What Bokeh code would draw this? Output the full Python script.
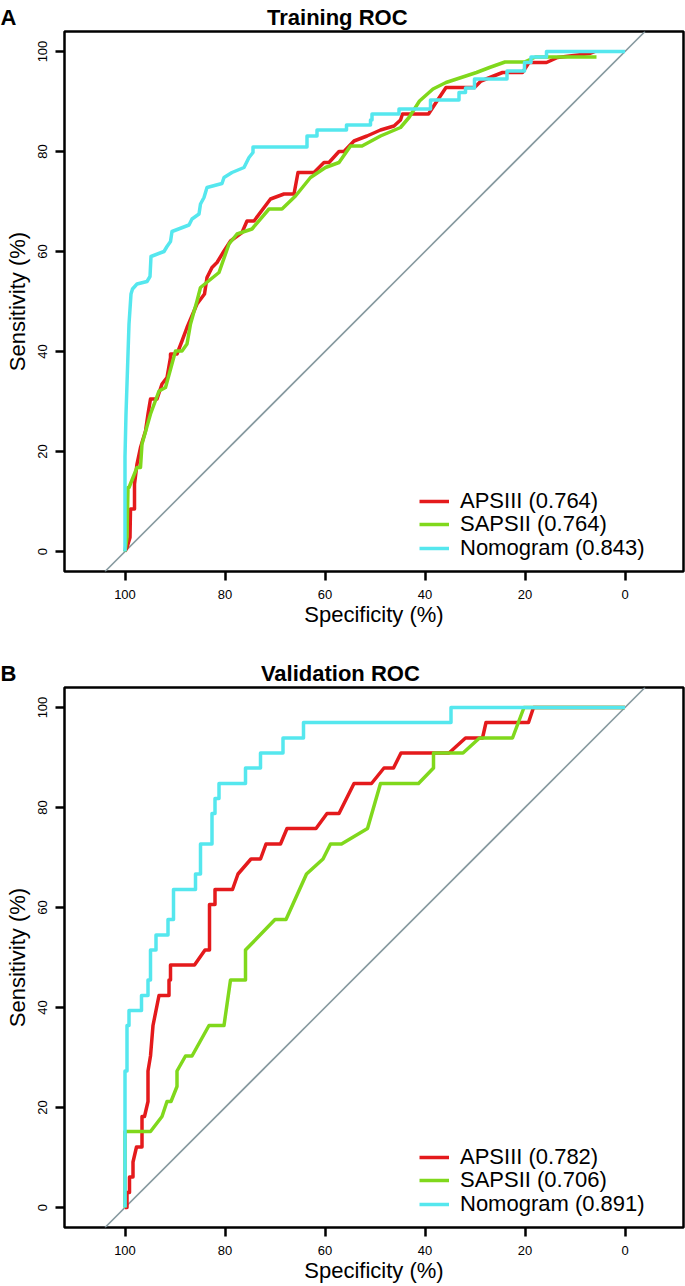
import math
from bokeh.plotting import figure
from bokeh.models import Range1d, FixedTicker, Slope, Legend, LegendItem
from bokeh.layouts import column
from bokeh.embed import file_html
from bokeh.resources import INLINE

# ---------------- data ----------------
tick_values = [0, 20, 40, 60, 80, 100]

# Training cohort ROC (specificity %, sensitivity %)
train_apsiii_spec = [100, 99.6, 99.0, 98.9, 98.1, 98.1, 97.6, 96.9, 95.9, 95.4, 94.9, 93.6, 92.6, 91.6,
                     90.9, 90.9, 89.6, 88.6, 87.6, 85.6, 84.1, 83.6, 82.6, 81.6, 80.2, 78.9, 76.6, 75.6,
                     74.2, 70.9, 68.2, 66.2, 65.4, 62.2, 60.2, 59.2, 57.2, 56.2, 54.2, 51.6, 48.9, 46.2,
                     44.9, 44.5, 39.3, 37.6, 35.8, 30.1, 28.8, 24.5, 20.5, 19.2, 15.7, 13.5, 7.0, 6.0]
train_apsiii_sens = [0, 0.8, 2.8, 8.5, 8.5, 13.5, 17.5, 20.8, 24.1, 27.5, 30.5, 30.5, 33.5, 34.8,
                     38.8, 39.5, 39.5, 42.1, 44.8, 49.5, 51.5, 54.8, 56.8, 57.8, 60.1, 62.1, 63.8, 66.1,
                     66.1, 70.5, 71.5, 71.5, 75.8, 75.8, 77.8, 77.8, 80.0, 80.0, 82.1, 83.1, 84.3, 85.1,
                     86.3, 87.5, 87.5, 90.1, 92.8, 92.8, 94.1, 95.8, 95.8, 97.8, 97.8, 98.8, 99.6, 100]

train_sapsii_spec = [100, 99.6, 99.4, 99.2, 97.6, 96.9, 96.6, 94.9, 93.2, 91.9, 89.9, 88.6, 87.6, 86.9,
                     85.6, 84.9, 81.2, 79.2, 77.6, 74.6, 71.2, 68.6, 65.9, 62.9, 59.9, 57.2, 54.9, 52.6,
                     48.9, 44.9, 43.2, 41.1, 38.4, 35.8, 29.7, 27.1, 24.0, 20.1, 17.9, 5.7]
train_sapsii_sens = [0, 2.8, 12.8, 12.8, 16.8, 16.8, 21.5, 27.5, 32.1, 32.8, 40.1, 40.1, 41.5, 45.5,
                     50.1, 52.8, 55.8, 61.5, 63.5, 64.5, 68.5, 68.5, 71.1, 74.8, 76.8, 77.8, 81.1, 81.1,
                     83.1, 84.8, 86.8, 90.1, 92.5, 93.8, 95.8, 96.8, 97.9, 97.9, 98.9, 98.9]

train_nomo_spec = [100, 100, 99.8, 99.6, 99.2, 98.8, 98.5, 97.6, 95.6, 95.0, 94.8, 92.2, 91.6, 90.9,
                   90.6, 87.2, 86.6, 85.2, 84.9, 84.2, 83.6, 80.6, 80.2, 78.6, 76.2, 75.2, 74.4, 74.4,
                   63.6, 63.6, 61.6, 61.6, 55.7, 55.7, 50.9, 50.9, 50.6, 50.6, 45.2, 45.2, 38.9, 38.9,
                   33.2, 33.2, 31.9, 31.9, 30.1, 30.1, 23.6, 23.6, 20.1, 20.1, 18.8, 18.8, 15.7, 15.7, 0]
train_nomo_sens = [0, 19.0, 27.5, 33.5, 45.5, 51.5, 52.5, 53.5, 54.0, 55.0, 59.0, 60.0, 61.0, 62.0,
                   64.0, 65.3, 66.5, 67.5, 69.5, 70.8, 72.8, 73.6, 74.8, 75.8, 76.8, 78.8, 79.8, 80.9,
                   80.9, 83.1, 83.1, 84.3, 84.3, 85.3, 85.3, 86.3, 86.3, 87.5, 87.5, 88.5, 88.5, 90.3,
                   90.3, 91.8, 91.8, 92.7, 92.7, 94.5, 94.5, 96.1, 96.1, 97.8, 97.8, 98.9, 98.9, 100, 100]

# Validation cohort ROC (specificity %, sensitivity %)
valid_apsiii_spec = [100, 99.6, 99.6, 99.1, 99.1, 98.4, 98.4, 97.7, 96.6, 96.6, 96.1, 95.4, 95.4, 94.9,
                     94.4, 93.2, 91.2, 91.2, 90.9, 90.9, 86.1, 84.0, 83.1, 83.1, 82.0, 82.0, 78.5, 77.4,
                     74.8, 72.9, 71.8, 68.9, 67.6, 61.8, 59.6, 57.2, 54.2, 50.7, 48.2, 46.3, 44.8, 35.2,
                     31.9, 28.5, 27.8, 19.3, 18.3, 0]
valid_apsiii_sens = [0, 0, 3.0, 3.0, 6.1, 6.1, 9.1, 12.1, 12.1, 18.2, 18.2, 21.2, 27.3, 30.3,
                     36.4, 42.4, 42.4, 45.5, 45.5, 48.5, 48.5, 51.5, 51.5, 60.6, 60.6, 63.6, 63.6, 66.7,
                     69.7, 69.7, 72.7, 72.7, 75.8, 75.8, 78.8, 78.8, 84.8, 84.8, 87.9, 87.9, 90.9, 90.9,
                     93.9, 93.9, 97.0, 97.0, 100, 100]

valid_sapsii_spec = [100, 100, 94.9, 92.6, 91.6, 90.8, 89.6, 89.6, 87.9, 86.6, 83.2, 80.2, 78.9, 75.9,
                     75.9, 70.0, 67.8, 63.7, 60.4, 58.9, 56.7, 51.5, 48.9, 41.3, 38.3, 38.3, 32.4, 29.1,
                     22.5, 20.2, 0]
valid_sapsii_sens = [0, 15.2, 15.2, 18.2, 21.2, 21.2, 24.2, 27.3, 30.3, 30.3, 36.4, 36.4, 45.5, 45.5,
                     51.5, 57.6, 57.6, 66.7, 69.7, 72.7, 72.7, 75.8, 84.8, 84.8, 87.9, 90.9, 90.9, 93.9,
                     93.9, 100, 100]

valid_nomo_spec = [100, 100, 99.6, 99.6, 99.2, 99.2, 96.7, 96.7, 95.4, 95.4, 94.9, 94.9, 93.8, 93.8,
                   91.4, 91.4, 90.3, 90.3, 85.9, 85.9, 84.9, 84.9, 82.6, 82.6, 82.0, 82.0, 81.2, 81.2,
                   75.9, 75.9, 72.9, 72.9, 68.4, 68.4, 64.3, 64.3, 34.8, 34.8, 0]
valid_nomo_sens = [0, 27.3, 27.3, 36.4, 36.4, 39.4, 39.4, 42.4, 42.4, 45.5, 45.5, 51.5, 51.5, 54.5,
                   54.5, 57.6, 57.6, 63.6, 63.6, 66.7, 66.7, 72.7, 72.7, 78.8, 78.8, 81.8, 81.8, 84.8,
                   84.8, 87.9, 87.9, 90.9, 90.9, 93.9, 93.9, 97.0, 97.0, 100, 100]

train_labels = ["APSIII (0.764)", "SAPSII (0.764)", "Nomogram (0.843)"]
valid_labels = ["APSIII (0.782)", "SAPSII (0.706)", "Nomogram (0.891)"]

COLORS = ["#E41A1C", "#80D81C", "#55E7EE"]
DIAG = "#86999F"
FONT = "Liberation Sans"
NBSP = "\u00a0"
LEGEND_ROW_Y = [57, 34, 10]   # screen offsets above the frame bottom, one per legend row


def make_panel(letter, title, gap, curves, labels, top, bottom):
    p = figure(frame_width=619, frame_height=540,
               x_range=Range1d(112.1, -11.7), y_range=Range1d(-4, 104),
               output_backend="svg", toolbar_location=None,
               min_border_left=64, min_border_right=2,
               min_border_top=top, min_border_bottom=bottom)
    p.background_fill_color = "white"
    p.border_fill_color = "white"
    p.grid.visible = False
    p.outline_line_color = "black"
    p.outline_line_width = 2.5
    p.outline_line_alpha = 1.0

    p.title.text = letter + NBSP * gap + title
    p.title.align = "left"
    p.title.offset = -64
    p.title.standoff = 4
    p.title.text_font = FONT
    p.title.text_font_size = "22px"
    p.title.text_font_style = "bold"
    p.title.text_color = "black"

    p.add_layout(Slope(gradient=-1, y_intercept=100, line_color=DIAG,
                       line_width=1.6, level="underlay"))

    for (xs, ys), lab, col, ly in zip(curves, labels, COLORS, LEGEND_ROW_Y):
        r = p.line(xs, ys, line_color=col, line_width=3.5, line_join="round")
        leg = Legend(items=[LegendItem(label=lab, renderers=[r])], location=(355, ly),
                     orientation="vertical",
                     border_line_alpha=0, background_fill_alpha=0,
                     padding=0, margin=0, spacing=0,
                     glyph_width=30, glyph_height=20, label_height=20,
                     label_standoff=11, label_text_font=FONT,
                     label_text_font_size="22px", label_text_color="black")
        p.add_layout(leg)

    for ax in (p.xaxis, p.yaxis):
        ax.ticker = FixedTicker(ticks=tick_values)
        ax.axis_line_color = None
        ax.major_tick_in = 0
        ax.major_tick_out = 9
        ax.major_tick_line_width = 2.5
        ax.major_tick_line_color = "black"
        ax.minor_tick_line_color = None
        ax.major_label_text_font = FONT
        ax.major_label_text_font_size = "13px"
        ax.major_label_text_color = "black"
        ax.axis_label_text_font = FONT
        ax.axis_label_text_font_size = "22px"
        ax.axis_label_text_font_style = "normal"
        ax.axis_label_text_color = "black"
    p.xaxis.axis_label = "Specificity (%)"
    p.yaxis.axis_label = "Sensitivity (%)"
    p.yaxis.major_label_orientation = "parallel"
    p.xaxis.major_label_standoff = 9
    p.yaxis.major_label_standoff = 9
    p.xaxis.axis_label_standoff = 0
    p.yaxis.axis_label_standoff = 5
    return p


p1 = make_panel("A", "Training ROC", 41,
                [(train_apsiii_spec, train_apsiii_sens),
                 (train_sapsii_spec, train_sapsii_sens),
                 (train_nomo_spec, train_nomo_sens)],
                train_labels, 30, 68)
p2 = make_panel("B", "Validation ROC", 40,
                [(valid_apsiii_spec, valid_apsiii_sens),
                 (valid_sapsii_spec, valid_sapsii_sens),
                 (valid_nomo_spec, valid_nomo_sens)],
                valid_labels, 48, 60)

layout = column(p1, p2, spacing=0)
open("out.html", "w").write(file_html(layout, INLINE))
